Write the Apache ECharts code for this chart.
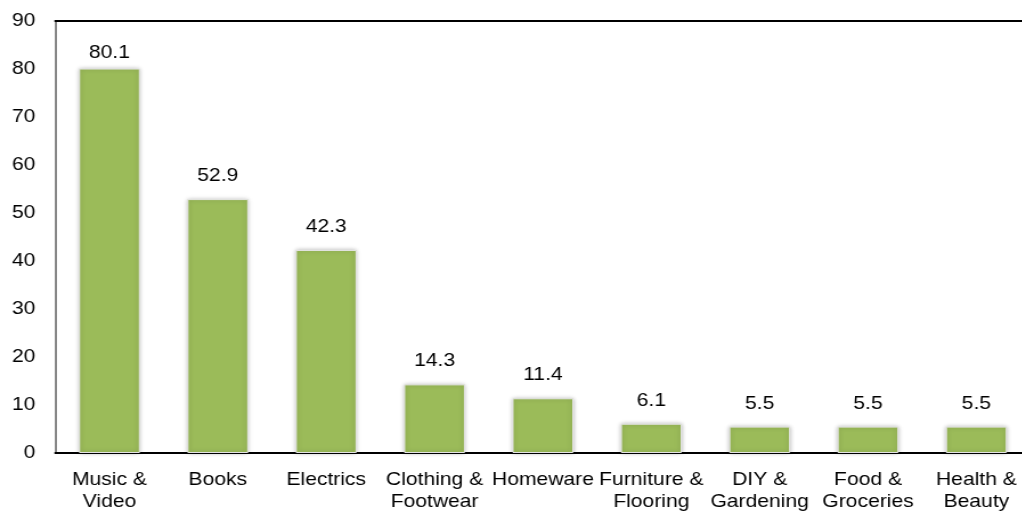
<!DOCTYPE html>
<html><head><meta charset="utf-8">
<script src="https://cdn.jsdelivr.net/npm/echarts@6/dist/echarts.min.js"></script>
<style>html,body{margin:0;padding:0;background:#fff;overflow:hidden;width:1022px;height:514px}
#c{width:904px;height:514px;transform:scale(1.14,1);transform-origin:0 0}</style>
</head><body><div id="c"></div>
<script>
const categories = ["Music &\nVideo","Books","Electrics","Clothing &\nFootwear","Homeware","Furniture &\nFlooring","DIY &\nGardening","Food &\nGroceries","Health &\nBeauty"];
const values = [80.1,52.9,42.3,14.3,11.4,6.1,5.5,5.5,5.5];
const chart = echarts.init(document.getElementById('c'));
const F = 'Liberation Sans, Arial, sans-serif';
// the tallest bar's label sits closer to the bar so it stays inside the plot frame
const seriesData = values.map((v, i) => i === 0 ? {value: v, label: {distance: 6.5}} : v);
chart.setOption({
  animation:false,
  grid:{left:48.5,right:0,top:21,bottom:61,containLabel:false},
  xAxis:[{
    type:'category',data:categories,
    axisLine:{lineStyle:{color:'#000',width:2}},
    axisTick:{show:false},
    axisLabel:{color:'#000',fontFamily:F,fontSize:18.5,lineHeight:22,margin:16,interval:0}
  },{
    type:'category',data:categories,position:'top',
    axisLine:{lineStyle:{color:'#000',width:2}},
    axisTick:{show:false},axisLabel:{show:false}
  }],
  yAxis:{
    type:'value',min:0,max:90,interval:10,
    axisLine:{show:true,lineStyle:{color:'#888',width:2}},
    axisTick:{show:false},
    splitLine:{show:false},
    axisLabel:{color:'#000',fontFamily:F,fontSize:18.5,margin:17.5}
  },
  series:[{
    type:'bar',data:seriesData,barWidth:53.5,
    itemStyle:{color:'#9BBB59',borderColor:'#e4e4e4',borderWidth:1,shadowColor:'rgba(0,0,0,0.25)',shadowBlur:4},
    label:{show:true,position:'top',distance:13.5,color:'#000',fontFamily:F,fontSize:18.5,formatter:p=>p.value.toFixed(1)}
  }]
});
</script></body></html>
